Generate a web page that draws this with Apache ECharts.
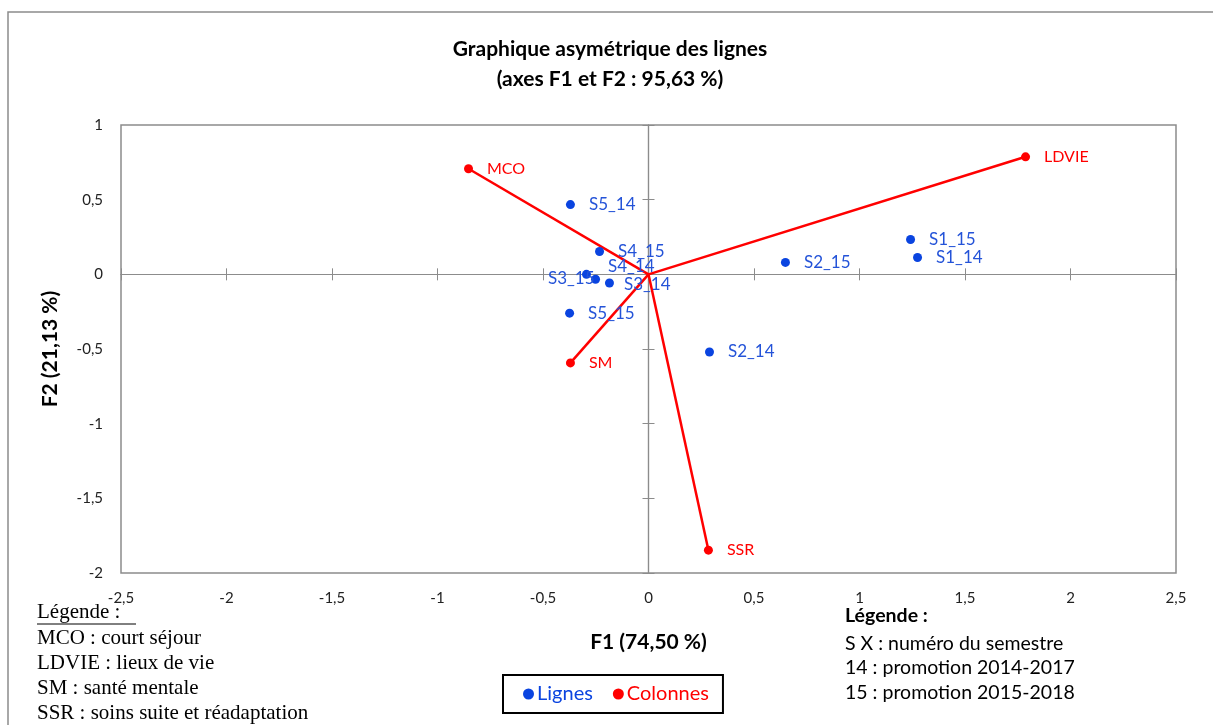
<!DOCTYPE html>
<html><head><meta charset="utf-8">
<script src="https://cdn.jsdelivr.net/npm/echarts@6/dist/echarts.min.js"></script>
<style>html,body{margin:0;padding:0;background:#fff}#c{width:1213px;height:725px}</style>
</head><body><div id="c"></div>
<script>
// Lignes (rows)
const rowNames = ['S1_14','S1_15','S2_14','S2_15','S3_14','S3_15','S4_14','S4_15','S5_14','S5_15'];
const rowF1 = [1.275, 1.242, 0.289, 0.649, -0.185, -0.294, -0.251, -0.232, -0.370, -0.374];
const rowF2 = [0.113, 0.233, -0.520, 0.080, -0.058, 0.000, -0.033, 0.153, 0.467, -0.260];
// Colonnes (columns)
const colNames = ['MCO','LDVIE','SM','SSR'];
const colF1 = [-0.853, 1.787, -0.370, 0.284];
const colF2 = [0.707, 0.787, -0.593, -1.847];
const xTicks = {min:-2.5, max:2.5, interval:0.5};
const yTicks = {min:-2, max:1, interval:0.5};

const BLUE = '#0a44e0', BLUE_TXT = '#2453d8', RED = '#ff0000';
const fmt = v => String(v).replace('.', ',');
const labelTweak = { 'S3_15':[-57,4], 'S4_14':[-6,-13], 'S3_14':[-4,2] };

const chart = echarts.init(document.getElementById('c'));
const rowData = rowNames.map((n,i)=>{
  const d = {name:n, value:[rowF1[i], rowF2[i]]};
  if (labelTweak[n]) d.label = {offset: labelTweak[n]};
  return d;
});
const colData = colNames.map((n,i)=>({name:n, value:[colF1[i], colF2[i]]}));
const lineSeries = colNames.map((n,i)=>({
  type:'line', name:'_'+n, data:[[0,0],[colF1[i], colF2[i]]], showSymbol:false, symbol:'none',
  lineStyle:{color:RED, width:2.5}, silent:true, z:3, animation:false
}));
const axisCommon = {type:'value', splitLine:{show:false}};
const tickFont = {fontFamily:'Lato, "Open Sans", sans-serif', fontSize:15, color:'#222'};

chart.setOption({
  animation:false,
  title:{text:'Graphique asymétrique des lignes\n(axes F1 et F2 : 95,63 %)', left:605, top:29, textAlign:'center',
    textStyle:{fontFamily:'Lato, sans-serif', fontWeight:'bold', fontSize:21, lineHeight:30, color:'#000'}},
  grid:{left:121, top:125, width:1055, height:448, show:true, borderColor:'#8c8c8c', borderWidth:1.5, backgroundColor:'transparent'},
  legend:{data:[{name:'Lignes', textStyle:{color:BLUE}},{name:'Colonnes', textStyle:{color:RED}}],
    left:503, top:675, width:219, height:41, padding:[9,14,9,20], itemGap:20,
    borderColor:'#000', borderWidth:2, icon:'circle', itemWidth:11, itemHeight:11,
    textStyle:{fontFamily:'Lato, sans-serif', fontSize:20, padding:[0,0,0,-2]}},
  xAxis:[
    Object.assign({}, axisCommon, xTicks, {position:'bottom', axisLine:{show:false, onZero:false}, axisTick:{show:false},
      axisLabel:Object.assign({formatter:fmt, margin:18}, tickFont),
      name:'F1 (74,50 %)', nameLocation:'middle', nameGap:59,
      nameTextStyle:{fontFamily:'Lato, sans-serif', fontWeight:'bold', fontSize:21, color:'#000'}}),
    Object.assign({}, axisCommon, xTicks, {axisLine:{onZero:true, lineStyle:{color:'#8c8c8c', width:1.2}},
      axisTick:{show:true, inside:false, length:6, lineStyle:{color:'#8c8c8c'}}, axisLabel:{show:false}}),
    Object.assign({}, axisCommon, xTicks, {axisLine:{onZero:true, lineStyle:{color:'#8c8c8c', width:1.2}},
      axisTick:{show:true, inside:true, length:6, lineStyle:{color:'#8c8c8c'}}, axisLabel:{show:false}})
  ],
  yAxis:[
    Object.assign({}, axisCommon, yTicks, {position:'left', axisLine:{show:false, onZero:false}, axisTick:{show:false},
      axisLabel:Object.assign({formatter:fmt, margin:18}, tickFont),
      name:'F2 (21,13 %)', nameLocation:'middle', nameGap:60, nameRotate:90,
      nameTextStyle:{fontFamily:'Lato, sans-serif', fontWeight:'bold', fontSize:21, color:'#000'}}),
    Object.assign({}, axisCommon, yTicks, {axisLine:{onZero:true, lineStyle:{color:'#8c8c8c', width:1.2}},
      axisTick:{show:true, inside:false, length:6, lineStyle:{color:'#8c8c8c'}}, axisLabel:{show:false}}),
    Object.assign({}, axisCommon, yTicks, {axisLine:{onZero:true, lineStyle:{color:'#8c8c8c', width:1.2}},
      axisTick:{show:true, inside:true, length:6, lineStyle:{color:'#8c8c8c'}}, axisLabel:{show:false}})
  ],
  series:[
    ...lineSeries,
    {type:'scatter', name:'Lignes', data:rowData, symbolSize:9, itemStyle:{color:BLUE, opacity:1}, z:4,
      label:{show:true, position:'right', distance:14, formatter:'{b}', color:BLUE_TXT, fontFamily:'Lato, sans-serif', fontSize:17}},
    {type:'scatter', name:'Colonnes', data:colData, symbolSize:9, itemStyle:{color:RED, opacity:1}, z:4,
      label:{show:true, position:'right', distance:14, formatter:'{b}', color:RED, fontFamily:'Lato, sans-serif', fontSize:16}}
  ],
  graphic:[
    {type:'rect', shape:{x:8, y:12, width:1230, height:760}, style:{fill:'none', stroke:'#8c8c8c', lineWidth:1.5}, silent:true},
    {type:'text', left:37, top:602, style:{text:'Légende :', font:'21px "Liberation Serif", serif', fill:'#000'}},
    {type:'line', shape:{x1:37, y1:624, x2:136, y2:624}, style:{stroke:'#000', lineWidth:1}},
    {type:'text', left:37, top:626, style:{text:'MCO : court séjour\nLDVIE : lieux de vie\nSM : santé mentale\nSSR : soins suite et réadaptation', font:'21px "Liberation Serif", serif', lineHeight:25, fill:'#000'}},
    {type:'text', left:845, top:606, style:{text:'Légende :', font:'bold 19.5px Lato, sans-serif', fill:'#000'}},
    {type:'text', left:845, top:631, style:{text:'S X : numéro du semestre\n14 : promotion 2014-2017\n15 : promotion 2015-2018', font:'19.5px Lato, sans-serif', lineHeight:24.5, fill:'#000'}}
  ]
});
</script></body></html>
